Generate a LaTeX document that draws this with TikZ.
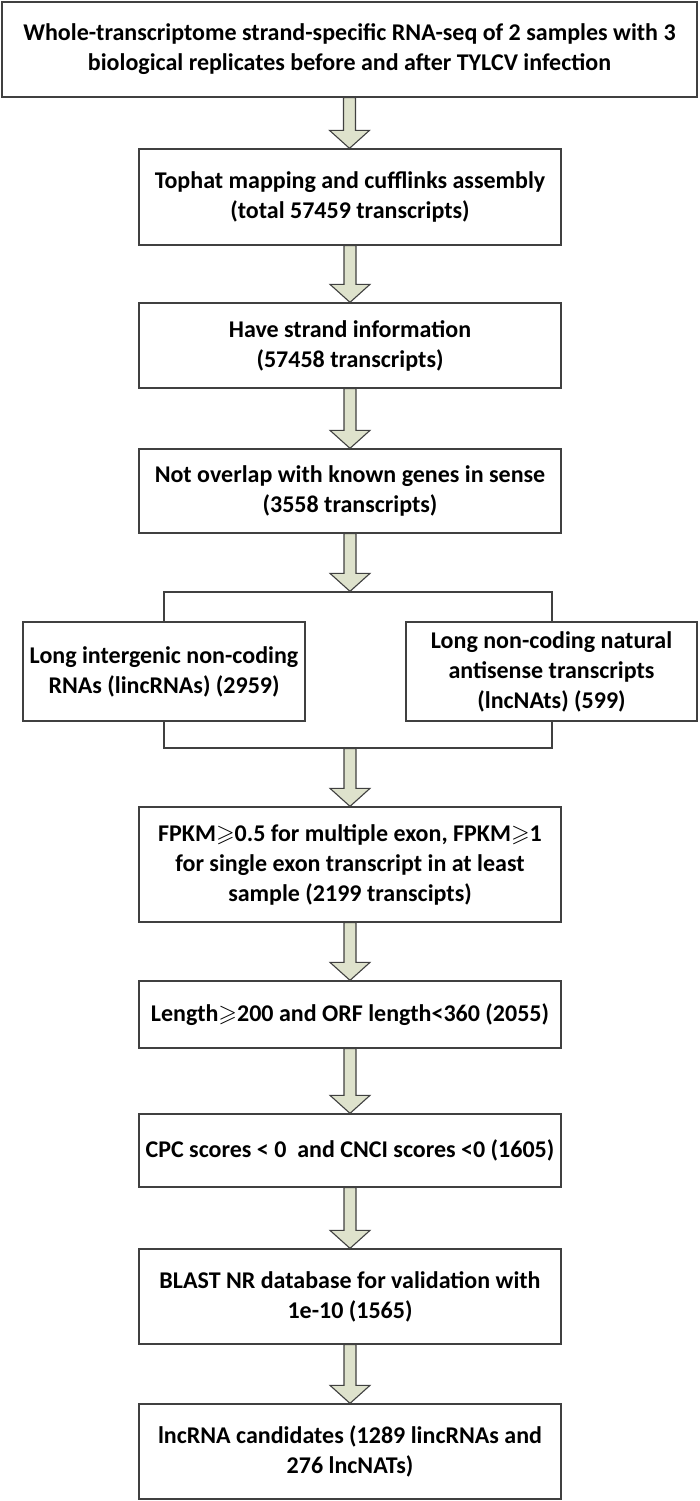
\documentclass[tikz,border=0pt]{standalone}
\usepackage{amssymb}
\usepackage{fontspec}
\setmainfont{Carlito}
\usetikzlibrary{calc}
\definecolor{boxline}{RGB}{64,64,64}
\definecolor{arrowfill}{RGB}{222,226,204}
\tikzset{
  x=1pt, y=-1pt,
  box/.style={draw=boxline, line width=1.3pt, fill=white, align=center, inner sep=0pt,
    font=\fontsize{24}{30}\selectfont\bfseries},
  blockarrow/.style={draw=boxline, line width=1.1pt, fill=arrowfill, line join=miter},
}
\newcommand\barrow[2]{%
  \path let \p1=(#1.south), \p2=(#2.north) in
    [blockarrow] (\x1-6pt,\y1) -- (\x1-6pt,\y2+18pt) -- (\x1-20pt,\y2+18pt) -- (\x1,\y2)
    -- (\x1+20pt,\y2+18pt) -- (\x1+6pt,\y2+18pt) -- (\x1+6pt,\y1) -- cycle;}
\newcommand\bx[5]{% name, x1, y1, x2, y2
  \node[box, minimum width={#4-#2}, minimum height={#5-#3}] (#1) at ({(#2+#4)/2},{(#3+#5)/2})}
\begin{document}
\begin{tikzpicture}
\useasboundingbox (0,0) rectangle (700,1501);
\bx{b1}{2}{2}{697}{97} {Whole-transcriptome strand-specific RNA-seq of 2 samples with 3\\biological replicates before and after TYLCV infection};
\bx{b2}{139}{149}{561}{245} {Tophat mapping and cufflinks assembly\\(total 57459 transcripts)};
\bx{b3}{139}{303}{561}{388} {Have strand information\\(57458 transcripts)};
\bx{b4}{139}{449}{561}{533} {Not overlap with known genes in sense\\(3558 transcripts)};
\node[draw=boxline, line width=1.3pt, minimum width=388pt, minimum height=156pt, inner sep=0pt] (split) at (358,670) {};
\bx{lft}{23}{622}{305}{721} {Long intergenic non-coding\\RNAs (lincRNAs) (2959)};
\bx{rgt}{406}{622}{697}{721} {Long non-coding natural\\antisense transcripts\\(lncNAts) (599)};
\bx{b5}{139}{807}{561}{922} {FPKM$\geqslant$0.5 for multiple exon, FPKM$\geqslant$1\\for single exon transcript in at least\\sample (2199 transcipts)};
\bx{b6}{139}{981}{561}{1048} {Length$\geqslant$200 and ORF length<360 (2055)};
\bx{b7}{139}{1114}{561}{1187} {CPC scores < 0\ \ and CNCI scores <0 (1605)};
\bx{b8}{139}{1249}{561}{1344} {BLAST NR database for validation with\\1e-10 (1565)};
\bx{b9}{139}{1404}{561}{1499} {lncRNA candidates (1289 lincRNAs and\\276 lncNATs)};
\barrow{b1}{b2}
\barrow{b2}{b3}
\barrow{b3}{b4}
\path let \p1=(b4.south), \p2=(split.north) in coordinate (t4) at (\x1,\y2);
\barrow{b4}{t4}
\path let \p1=(b5.north), \p2=(split.south) in coordinate (s5) at (\x1,\y2);
\barrow{s5}{b5}
\barrow{b5}{b6}
\barrow{b6}{b7}
\barrow{b7}{b8}
\barrow{b8}{b9}
\end{tikzpicture}
\end{document}
